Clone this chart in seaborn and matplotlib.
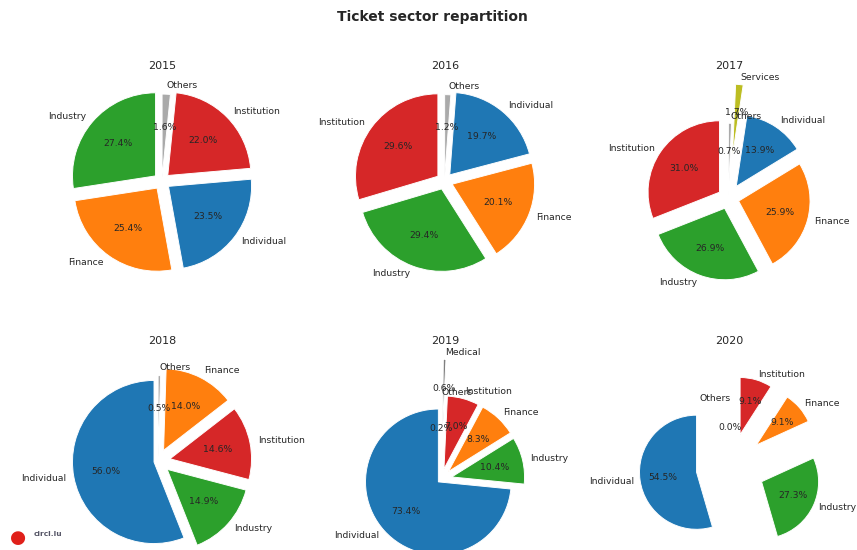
import matplotlib
matplotlib.use("Agg")
import matplotlib.pyplot as plt
import seaborn as sns

sns.set_style("white")
plt.rcParams["font.family"] = ["DejaVu Sans"]

# ---------------- data ----------------
years = ["2015", "2016", "2017", "2018", "2019", "2020"]

labels_2015 = ["Industry", "Finance", "Individual", "Institution", "Others"]
values_2015 = [27.4, 25.4, 23.5, 22.0, 1.6]

labels_2016 = ["Institution", "Industry", "Finance", "Individual", "Others"]
values_2016 = [29.6, 29.4, 20.1, 19.7, 1.2]

labels_2017 = ["Institution", "Industry", "Finance", "Individual", "Services", "Others"]
values_2017 = [31.0, 26.9, 25.9, 13.9, 1.7, 0.7]

labels_2018 = ["Individual", "Industry", "Institution", "Finance", "Others"]
values_2018 = [56.0, 14.9, 14.6, 14.0, 0.5]

# ticket counts (consistent with 73.4 / 10.4 / 8.3 / 7.0 / 0.6 / 0.2 %)
labels_2019 = ["Individual", "Industry", "Finance", "Institution", "Medical", "Others"]
values_2019 = [387, 55, 44, 37, 3, 1]

labels_2020 = ["Individual", "Industry", "Finance", "Institution", "Others"]
values_2020 = [54.5, 27.3, 9.1, 9.1, 0.0]

# ---------------- style ----------------
explode_2015 = [0.1, 0.1, 0.1, 0.1, 0.05]
explode_2016 = [0.1, 0.1, 0.1, 0.1, 0.05]
explode_2017 = [0.15, 0.15, 0.15, 0.2, 0.6, 0.05]
explode_2018 = [0.05, 0.15, 0.15, 0.15, 0.05]
explode_2019 = [0.05, 0.15, 0.15, 0.15, 0.65, 0.1]
explode_2020 = [0.6, 0.6, 0.6, 0.6, 0.1]

tab = sns.color_palette("tab10")
sector_colors = {
    "Individual": tab[0],
    "Finance": tab[1],
    "Industry": tab[2],
    "Institution": tab[3],
    "Medical": tab[7],
    "Services": tab[8],
    "Others": "#aaaaaa",
}

series = [
    (labels_2015, values_2015, explode_2015),
    (labels_2016, values_2016, explode_2016),
    (labels_2017, values_2017, explode_2017),
    (labels_2018, values_2018, explode_2018),
    (labels_2019, values_2019, explode_2019),
    (labels_2020, values_2020, explode_2020),
]

DPI = 200 / 3
W, H = 857, 550
fig = plt.figure(figsize=(12.856, 8.25), dpi=DPI)

box_w, box_h = 197, 215
col_centers = [162, 445, 729]
row_centers = [182, 457]

for i, (year, (labs, vals, expl)) in enumerate(zip(years, series)):
    r, c = divmod(i, 3)
    cx, cy = col_centers[c], row_centers[r]
    ax = fig.add_axes([(cx - box_w / 2) / W, 1 - (cy + box_h / 2) / H,
                       box_w / W, box_h / H])
    ax.pie(vals, labels=labs, explode=expl, autopct="%1.1f%%",
           startangle=90, colors=[sector_colors[l] for l in labs],
           textprops={"fontsize": 10})
    ax.axis("equal")
    ax.set_title(year, fontsize=12)

fig.suptitle("Ticket sector repartition", fontweight="bold", fontsize=15,
             x=0.505, y=1 - 16.7 / H, va="center")

# small CIRCL logo in the lower-left corner
fig.text(18 / W, 1 - 538 / H, "\u25cf", fontsize=20, color="#e0201a",
         ha="center", va="center")
fig.text(34 / W, 1 - 534 / H, "circl.lu", fontsize=8, fontweight="bold",
         color="#555566", va="center")

fig.savefig("out.png", dpi=DPI)
